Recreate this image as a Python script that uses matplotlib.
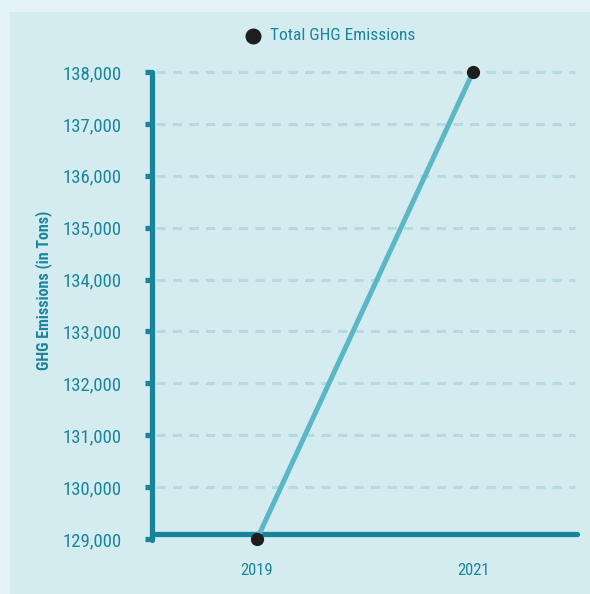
import matplotlib
matplotlib.use("Agg")
import matplotlib.pyplot as plt
from matplotlib import font_manager as fm
from matplotlib.patches import Rectangle
from matplotlib.ticker import FuncFormatter

years = ["2019", "2021"]
emissions = [129000, 138000]
yticks = [129000, 130000, 131000, 132000, 133000, 134000, 135000, 136000, 137000, 138000]
series_name = "Total GHG Emissions"
ylabel = "GHG Emissions (in Tons)"

names = {f.name for f in fm.fontManager.ttflist}
font = "DejaVu Sans"
stretch = "normal"
for cand in ["Liberation Sans Narrow", "Roboto Condensed", "Open Sans Condensed", "DejaVu Sans Condensed"]:
    if cand in names:
        font = cand
        break
else:
    stretch = "condensed"
plt.rcParams["font.family"] = [font, "DejaVu Sans"]

TXT = "#1a859b"
AX = "#17849a"
LINE = "#5bb7c5"
GRID = "#b4dbe1"
BG = "#d4ecf0"

fig = plt.figure(figsize=(5.90, 5.94), dpi=100)
fig.patch.set_facecolor("#e3f3f7")
fig.patches.append(Rectangle((10/590, 0), 1, 1 - 12/594, transform=fig.transFigure,
                             facecolor=BG, edgecolor="none", zorder=-5))

W, H = 590, 594
left, right, top, bottom = 152, 577, 72, 539
ax = fig.add_axes([left/W, 1-bottom/H, (right-left)/W, (bottom-top)/H])
ax.set_zorder(2)
ax.set_facecolor("none")
x = list(range(len(years)))
ax.set_xlim(-105/216, 1 + 104/216)
ax.set_ylim(yticks[0], yticks[-1])

for s in ax.spines.values():
    s.set_visible(False)

# gridlines
for yv in yticks[1:]:
    ax.plot([4/425, 423/425], [yv, yv], transform=ax.get_yaxis_transform(),
            color=GRID, lw=2.2, ls=(0, (3, 2.4)), zorder=1, clip_on=False)

# left axis line
ax.plot([0, 0], [yticks[0] - 20, yticks[-1]], transform=ax.get_yaxis_transform(),
        color=AX, lw=3.8, solid_capstyle="round", zorder=3, clip_on=False)
# bottom axis line
ax.plot([0, 1], [129100, 129100], transform=ax.get_yaxis_transform(),
        color=AX, lw=3.8, solid_capstyle="round", zorder=3, clip_on=False)

ax.plot(x, emissions, color=LINE, lw=3.6, zorder=4, clip_on=False)
ax.plot(x, emissions, ls="none", marker="o", ms=8.5, color="#1e1e1e", zorder=5, clip_on=False)

ax.set_yticks(yticks)
ax.yaxis.set_major_formatter(FuncFormatter(lambda v, p: f"{int(v):,}"))
ax.tick_params(axis="y", length=5, width=3.8, color=AX, pad=17, labelcolor=TXT, labelsize=13.5)
ax.set_xticks(x)
ax.set_xticklabels(years)
ax.tick_params(axis="x", length=0, pad=17, labelcolor=TXT, labelsize=12)
for lab in ax.get_yticklabels() + ax.get_xticklabels():
    lab.set_fontstretch(stretch)

fig.text(44/W, 1-290/H, ylabel, color=TXT, fontsize=11.5, fontweight="bold",
         rotation=90, ha="center", va="center", fontstretch=stretch)

# legend
fig.lines.append(plt.Line2D([253/W], [1-36/H], marker="o", ms=10.5, color="#1e1e1e",
                            transform=fig.transFigure))
fig.text(270/W, 1-36/H, series_name, color=TXT, fontsize=12.5, va="center", ha="left",
         fontstretch=stretch)

fig.savefig("out.png", dpi=100, facecolor=fig.get_facecolor())
